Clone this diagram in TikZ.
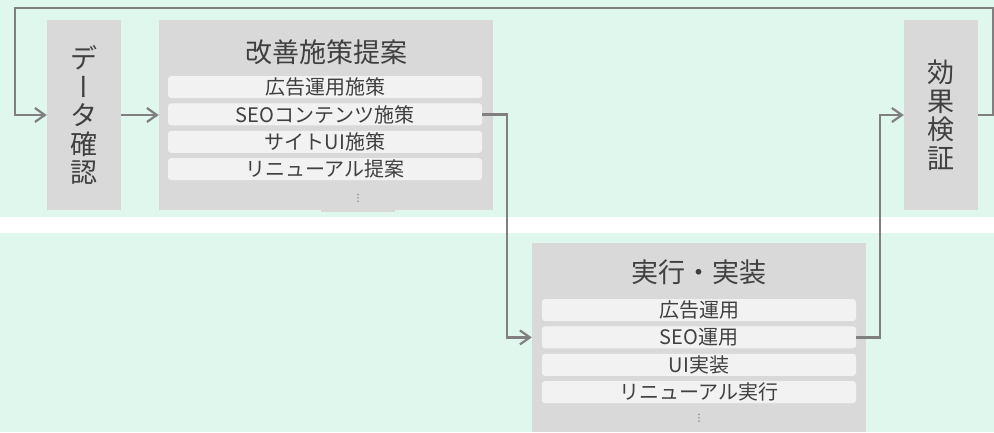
\documentclass[tikz,border=0pt]{standalone}
\usepackage{fontspec}
\setmainfont{Noto Sans CJK JP}
\newfontfamily\tatefont[RawFeature=+vert]{Noto Sans CJK JP}
\newfontfamily\symfont{DejaVu Sans}
\usetikzlibrary{arrows.meta,positioning}
\definecolor{mint}{RGB}{223,247,237}
\definecolor{boxgray}{RGB}{217,217,217}
\definecolor{itemgray}{RGB}{242,242,242}
\definecolor{textgray}{RGB}{64,64,64}
\definecolor{linegray}{RGB}{128,128,128}

\begin{document}
\begin{tikzpicture}[x=1pt, y=-1pt,
    every node/.style={text=textgray, inner sep=0pt},
    stagebox/.style={fill=boxgray, minimum width=74pt, minimum height=190pt, align=center, font=\fontsize{27}{28.5}\selectfont},
    groupbox/.style={fill=boxgray, minimum width=334pt},
    titletext/.style={font=\fontsize{27}{27}\selectfont},
    itembox/.style={fill=itemgray, rounded corners=3pt, minimum width=314pt, minimum height=22pt, font=\fontsize{20}{20}\selectfont},
    dotstext/.style={font=\symfont\fontsize{10}{10}\selectfont, text=textgray!80},
    flow/.style={draw=linegray, line width=2.2pt, -{Straight Barb[length=10pt,width=14pt]}}]
    \useasboundingbox (0,0) rectangle (994,432);

    % 1. 背景帯 (上段・下段)
    \fill[mint] (0,0) rectangle (994,217);
    \fill[mint] (0,233) rectangle (994,432);

    % 2. 上段: データ確認 → 改善施策提案, 効果検証
    \node[stagebox] (data) at (84,115) {デ\\{\tatefont ー}\\タ\\確\\認};

    \node[groupbox, minimum height=190pt] (kaizen) at (326,115) {};
    \node[titletext] (kaizenT) at (326,52) {改善施策提案};
    \node[itembox] (k1) at (325,87) {広告運用施策};
    \node[itembox, below=5pt of k1] (k2) {SEOコンテンツ施策};
    \node[itembox, below=5pt of k2] (k3) {サイトUI施策};
    \node[itembox, below=5pt of k3] (k4) {リニューアル提案};
    \node[fill=boxgray, minimum width=74pt, minimum height=28pt, dotstext] (kaizenD) at (358,198) {⋮};

    \node[stagebox] (kouka) at (941,115) {効\\果\\検\\証};

    % 3. 下段: 実行・実装
    \node[groupbox, minimum height=189pt] (jikkou) at (699,337.5) {};
    \node[titletext] (jikkouT) at (699,272) {実行・実装};
    \node[itembox] (j1) at (699,310) {広告運用};
    \node[itembox, below=5pt of j1] (j2) {SEO運用};
    \node[itembox, below=5pt of j2] (j3) {UI実装};
    \node[itembox, below=5pt of j3] (j4) {リニューアル実行};
    \node[dotstext] (jikkouD) at (699,418) {⋮};

    % 4. 矢印 (流れとフィードバック)
    \coordinate (backR) at (993,8);
    \coordinate (backL) at (15,8);
    \draw[flow] (data.east) -- (kaizen.west);
    \draw[flow] (k2.east) -- ++(25,0) |- (jikkou.west |- j2);
    \draw[flow] (j2.east) -- ++(24,0) |- (kouka.west);
    \draw[flow] (kouka.east) -| (backR) -- (backL) |- (data.west);
\end{tikzpicture}
\end{document}
